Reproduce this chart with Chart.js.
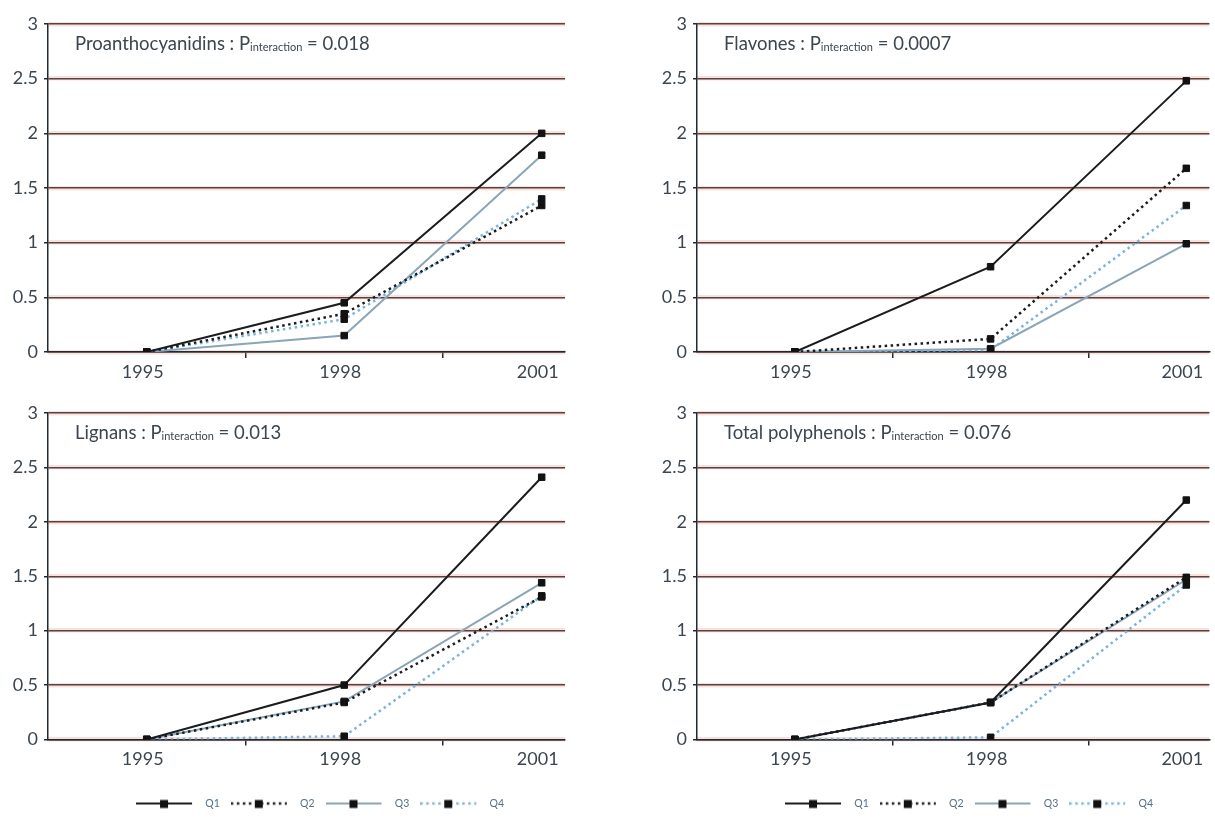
<!DOCTYPE html>
<html>
<head>
<meta charset="utf-8">
<title>Polyphenol intake quartiles, 1995–2001</title>
<script src="https://cdn.jsdelivr.net/npm/chart.js@4.4.1/dist/chart.umd.min.js"></script>
<style>
  html, body { margin: 0; padding: 0; background: #ffffff; }
  body { width: 1215px; height: 821px; position: relative; overflow: hidden; }
  .panel { position: absolute; }
  .panel canvas { display: block; }
</style>
</head>
<body>
<div class="panel" style="left:0;top:0;width:600px;height:395px"><canvas id="proanthocyanidins"></canvas></div>
<div class="panel" style="left:649px;top:0;width:566px;height:395px"><canvas id="flavones"></canvas></div>
<div class="panel" style="left:0;top:390px;width:600px;height:431px"><canvas id="lignans"></canvas></div>
<div class="panel" style="left:649px;top:390px;width:566px;height:431px"><canvas id="total"></canvas></div>

<script>
// Survey years on the x axis and the four quartile groups
const years = ['1995', '1998', '2001'];
const quartiles = ['Q1', 'Q2', 'Q3', 'Q4'];
const yTicks = [0, 0.5, 1, 1.5, 2, 2.5, 3];

// Proanthocyanidins, P interaction = 0.018
const proanthocyanidinsQ1 = [0, 0.45, 2.00];
const proanthocyanidinsQ2 = [0, 0.35, 1.34];
const proanthocyanidinsQ3 = [0, 0.15, 1.80];
const proanthocyanidinsQ4 = [0, 0.30, 1.40];

// Flavones, P interaction = 0.0007
const flavonesQ1 = [0, 0.78, 2.48];
const flavonesQ2 = [0, 0.12, 1.68];
const flavonesQ3 = [0, 0.03, 0.99];
const flavonesQ4 = [0, 0.02, 1.34];

// Lignans, P interaction = 0.013
const lignansQ1 = [0, 0.50, 2.41];
const lignansQ2 = [0, 0.34, 1.31];
const lignansQ3 = [0, 0.35, 1.44];
const lignansQ4 = [0, 0.03, 1.32];

// Total polyphenols, P interaction = 0.076
const totalQ1 = [0, 0.34, 2.20];
const totalQ2 = [0, 0.34, 1.49];
const totalQ3 = [0, 0.34, 1.47];
const totalQ4 = [0, 0.02, 1.42];

const FONT = 'Lato, "Open Sans", sans-serif';
const TEXT = '#3b4650';
const GRID = '#1f2a32';
const LEGEND_TEXT = '#56708a';

// line look of each quartile: solid black, dotted black, solid grey-blue, dotted light blue
const lineStyles = [
  { color: '#1a1c1f', dash: [], width: 2 },
  { color: '#1a1c1f', dash: [2.5, 3.5], width: 2.5 },
  { color: '#8aa5b8', dash: [], width: 2 },
  { color: '#79b4dc', dash: [2.5, 3.5], width: 2.5 }
];

// small "line — marker — line" swatches for the legend
function legendSwatch(style) {
  const c = document.createElement('canvas');
  c.width = 64; c.height = 12;
  const g = c.getContext('2d');
  g.strokeStyle = style.color;
  g.lineWidth = style.width;
  g.setLineDash(style.dash);
  g.beginPath(); g.moveTo(0, 6); g.lineTo(56, 6); g.stroke();
  g.setLineDash([]);
  g.fillStyle = '#111';
  g.fillRect(24, 2.5, 8, 8);
  return c;
}
const swatches = lineStyles.map(legendSwatch);

// panel heading with a subscripted "interaction"
const panelTitle = {
  id: 'panelTitle',
  afterDraw(chart, args, opts) {
    if (!opts || !opts.name) return;
    const { ctx, chartArea } = chart;
    ctx.save();
    ctx.fillStyle = TEXT;
    ctx.textBaseline = 'alphabetic';
    ctx.textAlign = 'left';
    let x = chartArea.left + 27;
    const y = chartArea.top + 26;
    ctx.font = '18.5px ' + FONT;
    const head = opts.name + ' : P';
    ctx.fillText(head, x, y);
    x += ctx.measureText(head).width;
    ctx.font = '11px ' + FONT;
    ctx.fillText('interaction', x, y + 1);
    x += ctx.measureText('interaction').width;
    ctx.font = '18.5px ' + FONT;
    ctx.fillText(' = ' + opts.p, x, y);
    ctx.restore();
  }
};

// keeps the legend row centred under the plot, on a fixed line
const legendPlacement = {
  id: 'legendPlacement',
  afterLayout(chart, args, opts) {
    const lg = chart.legend;
    if (!lg || !opts || opts.centerX === undefined) return;
    const dx = opts.centerX - (lg.left + lg.right) / 2;
    const dy = opts.centerY - (lg.top + lg.bottom) / 2;
    lg.left += dx; lg.right += dx;
    lg.top += dy; lg.bottom += dy;
  }
};

function makePanel(id, name, p, series, withLegend, padRight) {
  const datasets = series.map((vals, i) => ({
    label: quartiles[i],
    data: years.map((_, k) => ({ x: k, y: vals[k] })),
    borderColor: lineStyles[i].color,
    borderDash: lineStyles[i].dash,
    borderWidth: lineStyles[i].width,
    tension: 0,
    fill: false,
    pointStyle: 'rect',
    pointRadius: 4.6,
    pointBorderWidth: 1,
    pointBackgroundColor: '#121212',
    pointBorderColor: '#121212'
  }));

  return new Chart(document.getElementById(id), {
    type: 'line',
    data: { datasets },
    plugins: [panelTitle, legendPlacement],
    options: {
      responsive: true,
      maintainAspectRatio: false,
      animation: false,
      layout: { padding: { left: 0, right: padRight, top: withLegend ? 23 : 24, bottom: withLegend ? 7 : 0 } },
      scales: {
        x: {
          type: 'linear',
          min: -0.5,
          max: 2.118,
          afterBuildTicks: s => { s.ticks = [0, 0.5, 1, 1.5, 2].map(v => ({ value: v })); },
          ticks: {
            autoSkip: false,
            maxRotation: 0,
            padding: 3,
            labelOffset: -4,
            color: TEXT,
            font: { family: FONT, size: 18 },
            callback: v => Number.isInteger(v) ? years[v] : ''
          },
          grid: {
            drawOnChartArea: false,
            tickLength: 6,
            lineWidth: 1.5,
            tickColor: c => (c.tick && Number.isInteger(c.tick.value)) ? 'rgba(0,0,0,0)' : GRID
          },
          border: { display: true, color: GRID, width: 1.5 },
          afterFit: s => { s.height = 43; }
        },
        y: {
          type: 'linear',
          min: 0,
          max: 3,
          afterBuildTicks: s => { s.ticks = yTicks.map(v => ({ value: v })); },
          ticks: { padding: 6, color: TEXT, font: { family: FONT, size: 18 }, callback: v => String(v) },
          grid: { color: GRID, lineWidth: 1.5, tickLength: 4 },
          border: { display: true, color: GRID, width: 1.5 },
          afterFit: s => { s.width = 48; }
        },
        // faint warm fringe under each gridline
        halo: {
          type: 'linear',
          position: 'right',
          min: 0,
          max: 3,
          z: -1,
          afterBuildTicks: s => { s.ticks = yTicks.map(v => ({ value: v })); },
          ticks: { display: false },
          grid: { color: 'rgba(238,140,118,0.26)', lineWidth: 4.5, drawTicks: false },
          border: { display: false },
          afterFit: s => { s.width = 0; }
        }
      },
      plugins: {
        tooltip: { enabled: false },
        panelTitle: { name, p },
        legendPlacement: withLegend ? { centerX: 320, centerY: 413 } : {},
        legend: {
          display: withLegend,
          position: 'bottom',
          labels: {
            usePointStyle: true,
            pointStyleWidth: 64,
            padding: 11,
            color: LEGEND_TEXT,
            font: { family: FONT, size: 10.5 },
            generateLabels: chart => chart.data.datasets.map((ds, i) => ({
              text: ds.label,
              pointStyle: swatches[i],
              fillStyle: 'rgba(0,0,0,0)',
              strokeStyle: 'rgba(0,0,0,0)',
              lineWidth: 0,
              fontColor: LEGEND_TEXT,
              hidden: false,
              datasetIndex: i
            }))
          }
        }
      }
    }
  });
}

makePanel('proanthocyanidins', 'Proanthocyanidins', '0.018',
  [proanthocyanidinsQ1, proanthocyanidinsQ2, proanthocyanidinsQ3, proanthocyanidinsQ4], false, 35);
makePanel('flavones', 'Flavones', '0.0007',
  [flavonesQ1, flavonesQ2, flavonesQ3, flavonesQ4], false, 1);
makePanel('lignans', 'Lignans', '0.013',
  [lignansQ1, lignansQ2, lignansQ3, lignansQ4], true, 35);
makePanel('total', 'Total polyphenols', '0.076',
  [totalQ1, totalQ2, totalQ3, totalQ4], true, 1);
</script>
</body>
</html>
